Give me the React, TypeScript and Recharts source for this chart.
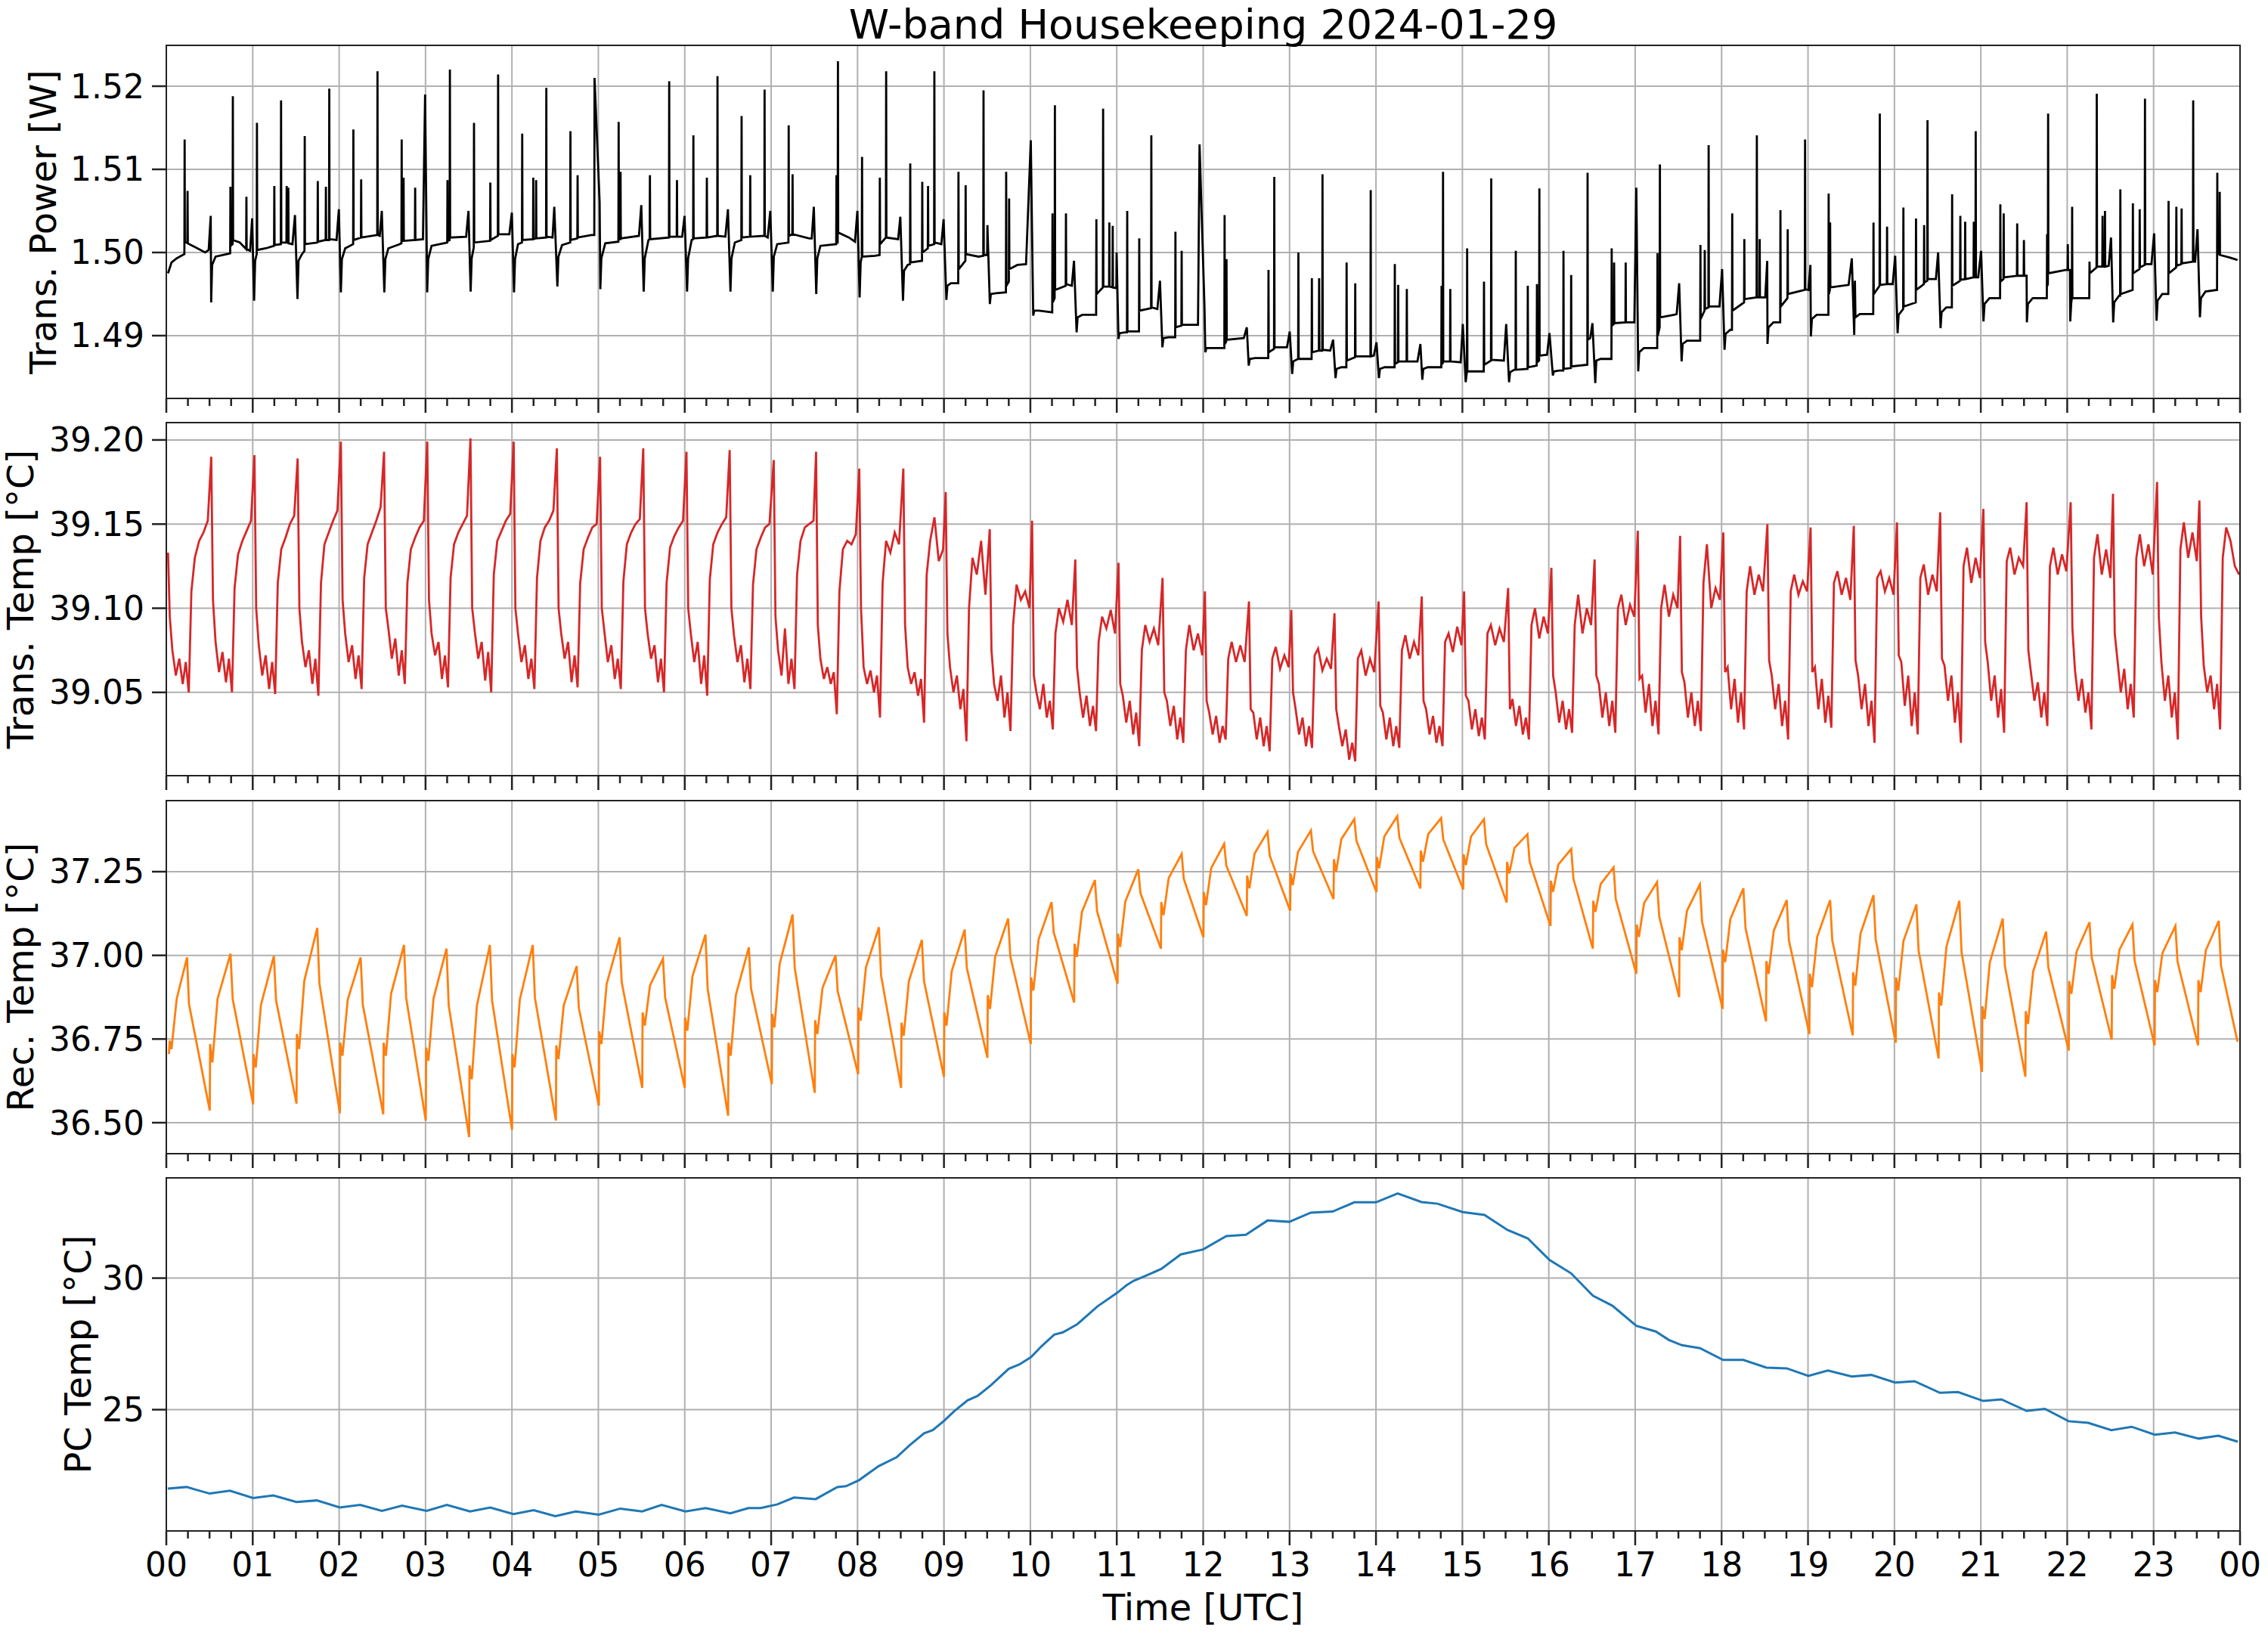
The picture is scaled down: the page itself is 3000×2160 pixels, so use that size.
import React from 'react'
import { LineChart, Line, XAxis, YAxis, CartesianGrid } from 'recharts'

// ─── Axes / labels ─────────────────────────────────────────────────────────────

const HOUR_LABELS = ['00', '01', '02', '03', '04', '05', '06', '07', '08', '09', '10', '11', '12',
  '13', '14', '15', '16', '17', '18', '19', '20', '21', '22', '23', '00']
const HOUR_GRID = [1, 2, 3, 4, 5, 6, 7, 8, 9, 10, 11, 12, 13, 14, 15, 16, 17, 18, 19, 20, 21, 22, 23]
const QUARTER_TICKS = Array.from({ length: 97 }, (_, i) => i / 4)

const POWER_TICKS = [1.49, 1.5, 1.51, 1.52]
const POWER_TICK_LABELS = ['1.49', '1.50', '1.51', '1.52']
const TTEMP_TICKS = [39.05, 39.1, 39.15, 39.2]
const TTEMP_TICK_LABELS = ['39.05', '39.10', '39.15', '39.20']
const RTEMP_TICKS = [36.5, 36.75, 37.0, 37.25]
const RTEMP_TICK_LABELS = ['36.50', '36.75', '37.00', '37.25']
const PCTEMP_TICKS = [25, 30]
const PCTEMP_TICK_LABELS = ['25', '30']

// ─── Data: transmitter power [W], (hour, value) ────────────────────────────────

const transPowerPoints: [number, number][] = [
  [0.02, 1.4975], [0.06, 1.4988], [0.12, 1.4993], [0.19, 1.4997], [0.209, 1.4998], [0.212, 1.5136], [0.215, 1.5012],
  [0.243, 1.5012], [0.246, 1.5074], [0.249, 1.5011], [0.36, 1.5005], [0.45, 1.5], [0.49, 1.5003], [0.514, 1.5044],
  [0.519, 1.494], [0.53, 1.4985], [0.57, 1.4995], [0.7, 1.4998], [0.739, 1.4999], [0.742, 1.5079], [0.745, 1.5008],
  [0.767, 1.501], [0.77, 1.5188], [0.773, 1.5015], [0.85, 1.5012], [0.924, 1.5004], [0.927, 1.5067], [0.93, 1.5004],
  [0.97, 1.5002], [0.993, 1.5041],
  [1.016, 1.4942], [1.028, 1.499], [1.046, 1.4998], [1.049, 1.5156], [1.052, 1.5003], [1.15, 1.5005], [1.247, 1.5008],
  [1.25, 1.508], [1.253, 1.5009], [1.325, 1.501], [1.328, 1.5183], [1.331, 1.5012], [1.39, 1.5012], [1.393, 1.508],
  [1.396, 1.5012], [1.409, 1.5012], [1.412, 1.5078], [1.415, 1.5011], [1.46, 1.501], [1.489, 1.5045],
  [1.518, 1.4944], [1.53, 1.499], [1.57, 1.4998], [1.599, 1.5002], [1.602, 1.514], [1.605, 1.501], [1.75, 1.5012],
  [1.753, 1.5086], [1.756, 1.5013], [1.844, 1.5015], [1.847, 1.5079], [1.85, 1.5015], [1.883, 1.5015], [1.886, 1.5197],
  [1.889, 1.5016], [1.97, 1.5015], [1.997, 1.5052],
  [2.02, 1.4952], [2.032, 1.4992], [2.07, 1.5005], [2.162, 1.501], [2.165, 1.5148], [2.168, 1.5015], [2.252, 1.5018],
  [2.255, 1.5088], [2.258, 1.5018], [2.441, 1.5021], [2.444, 1.5218], [2.447, 1.5021], [2.47, 1.502], [2.494, 1.505],
  [2.523, 1.4952], [2.535, 1.4992], [2.57, 1.5005], [2.7, 1.501], [2.721, 1.5011], [2.724, 1.5136], [2.727, 1.5014],
  [2.743, 1.5014], [2.746, 1.509], [2.749, 1.5014], [2.877, 1.5015], [2.88, 1.5078], [2.883, 1.5015], [2.97, 1.5016],
  [2.995, 1.519],
  [3.019, 1.4952], [3.031, 1.4992], [3.07, 1.5008], [3.251, 1.5012], [3.254, 1.5087], [3.257, 1.5014], [3.279, 1.5015],
  [3.282, 1.522], [3.285, 1.5018], [3.47, 1.5019], [3.497, 1.505],
  [3.522, 1.4953], [3.534, 1.4993], [3.558, 1.5006], [3.561, 1.5156], [3.564, 1.5012], [3.747, 1.5014], [3.75, 1.5084],
  [3.753, 1.5015], [3.837, 1.502], [3.84, 1.5214], [3.843, 1.5022], [3.97, 1.5022], [3.999, 1.5048],
  [4.024, 1.4952], [4.036, 1.4992], [4.07, 1.501], [4.116, 1.5012], [4.119, 1.5143], [4.122, 1.5015], [4.244, 1.5016],
  [4.247, 1.509], [4.25, 1.5016], [4.277, 1.5017], [4.28, 1.5087], [4.283, 1.5017], [4.395, 1.5018], [4.398, 1.5198],
  [4.401, 1.5019], [4.47, 1.5018], [4.49, 1.5055],
  [4.526, 1.4959], [4.538, 1.4995], [4.58, 1.5009], [4.674, 1.5012], [4.677, 1.5146], [4.68, 1.5015], [4.757, 1.5017],
  [4.76, 1.5093], [4.763, 1.5018], [4.92, 1.5021], [4.953, 1.5021], [4.956, 1.521], [5.015, 1.506],
  [5.023, 1.4956], [5.035, 1.4993], [5.08, 1.5011], [5.232, 1.5013], [5.235, 1.5157], [5.238, 1.5016], [5.254, 1.5016],
  [5.257, 1.5097], [5.26, 1.5017], [5.47, 1.502], [5.497, 1.5057],
  [5.525, 1.4953], [5.537, 1.4993], [5.58, 1.5015], [5.594, 1.5016], [5.597, 1.5093], [5.6, 1.5016], [5.817, 1.5018],
  [5.82, 1.5206], [5.823, 1.5019], [5.907, 1.5019], [5.91, 1.5087], [5.913, 1.5019], [5.97, 1.5019], [5.998, 1.5044],
  [6.027, 1.4953], [6.039, 1.4993], [6.08, 1.5015], [6.097, 1.5016], [6.1, 1.5141], [6.103, 1.5017], [6.253, 1.5018],
  [6.256, 1.509], [6.259, 1.5018], [6.376, 1.502], [6.379, 1.5212], [6.382, 1.502], [6.47, 1.5019], [6.5, 1.5052],
  [6.529, 1.4953], [6.541, 1.4993], [6.58, 1.5012], [6.655, 1.5015], [6.658, 1.5164], [6.661, 1.5018], [6.755, 1.5019],
  [6.758, 1.5093], [6.761, 1.5019], [6.921, 1.502], [6.924, 1.5196], [6.927, 1.502], [6.96, 1.5018], [6.99, 1.505],
  [7.019, 1.4953], [7.031, 1.4995], [7.07, 1.501], [7.2, 1.5012], [7.203, 1.5153], [7.206, 1.502], [7.245, 1.5022],
  [7.248, 1.5094], [7.251, 1.5022], [7.44, 1.5017], [7.47, 1.5017], [7.494, 1.5055],
  [7.522, 1.495], [7.534, 1.4993], [7.57, 1.5008], [7.753, 1.501], [7.756, 1.5093], [7.759, 1.5012], [7.77, 1.5012],
  [7.773, 1.523], [7.776, 1.5024], [7.9, 1.5018], [7.97, 1.5013], [7.998, 1.505],
  [8.024, 1.4946], [8.036, 1.4988], [8.049, 1.4995], [8.052, 1.5115], [8.055, 1.4995], [8.2, 1.4996], [8.255, 1.4997],
  [8.258, 1.509], [8.261, 1.501], [8.328, 1.5018], [8.331, 1.5218], [8.334, 1.5018], [8.47, 1.5016], [8.495, 1.5043],
  [8.526, 1.4942], [8.538, 1.4978], [8.58, 1.4985], [8.607, 1.4986], [8.61, 1.5107], [8.613, 1.4988], [8.746, 1.499],
  [8.749, 1.5085], [8.752, 1.5], [8.813, 1.5005], [8.816, 1.508], [8.819, 1.5008], [8.886, 1.501], [8.889, 1.5218],
  [8.892, 1.5012], [8.97, 1.501], [8.996, 1.504],
  [9.028, 1.4943], [9.04, 1.496], [9.08, 1.4963], [9.165, 1.4963], [9.168, 1.5097], [9.171, 1.498], [9.248, 1.499],
  [9.251, 1.5081], [9.254, 1.4998], [9.4, 1.4995], [9.455, 1.4996], [9.458, 1.5195], [9.461, 1.4997], [9.5, 1.4997],
  [9.503, 1.5033],
  [9.531, 1.4938], [9.543, 1.495], [9.6, 1.4951], [9.717, 1.4952], [9.72, 1.5097], [9.723, 1.496], [9.751, 1.4965],
  [9.754, 1.5065], [9.757, 1.498], [9.85, 1.4985], [9.95, 1.4986], [10.005, 1.5135],
  [10.033, 1.4924], [10.045, 1.493], [10.1, 1.493], [10.253, 1.4928], [10.256, 1.5047], [10.259, 1.494], [10.281, 1.4945],
  [10.284, 1.5177], [10.287, 1.4955], [10.409, 1.496], [10.412, 1.5047], [10.415, 1.4962], [10.48, 1.496], [10.505, 1.499],
  [10.535, 1.4904], [10.547, 1.4922], [10.6, 1.4925], [10.761, 1.4925], [10.764, 1.504], [10.767, 1.495], [10.839, 1.4958],
  [10.842, 1.5173], [10.845, 1.4959], [10.911, 1.4959], [10.914, 1.5036], [10.917, 1.4959], [10.95, 1.4958], [10.953, 1.5032],
  [10.956, 1.4958], [10.995, 1.4957], [10.998, 1.5],
  [11.02, 1.4896], [11.032, 1.4903], [11.1, 1.4904], [11.118, 1.4904], [11.121, 1.505], [11.124, 1.4905], [11.257, 1.4905],
  [11.26, 1.5017], [11.263, 1.493], [11.397, 1.4933], [11.4, 1.5141], [11.403, 1.4934], [11.47, 1.4932], [11.5, 1.4966],
  [11.528, 1.4886], [11.54, 1.4897], [11.6, 1.4898], [11.676, 1.4898], [11.679, 1.5025], [11.682, 1.491], [11.748, 1.4912],
  [11.751, 1.5002], [11.754, 1.4913], [11.94, 1.4913], [11.958, 1.513], [12.015, 1.4935],
  [12.025, 1.488], [12.037, 1.4885], [12.1, 1.4885], [12.245, 1.4885], [12.248, 1.5045], [12.251, 1.489], [12.267, 1.4893],
  [12.27, 1.4992], [12.273, 1.4895], [12.47, 1.4897], [12.505, 1.491],
  [12.527, 1.4864], [12.54, 1.4872], [12.6, 1.4873], [12.753, 1.4873], [12.756, 1.4979], [12.759, 1.488], [12.82, 1.4884],
  [12.823, 1.5091], [12.826, 1.4886], [12.97, 1.4886], [13.002, 1.4905],
  [13.03, 1.4854], [13.042, 1.4869], [13.099, 1.4872], [13.102, 1.5], [13.105, 1.4872], [13.255, 1.4872], [13.258, 1.4969],
  [13.261, 1.488], [13.339, 1.4882], [13.342, 1.4969], [13.345, 1.4882], [13.378, 1.4882], [13.381, 1.5094], [13.384, 1.4883],
  [13.47, 1.4882], [13.504, 1.4895],
  [13.532, 1.4849], [13.544, 1.486], [13.6, 1.4862], [13.657, 1.4862], [13.66, 1.4988], [13.663, 1.487], [13.757, 1.4874],
  [13.76, 1.4963], [13.763, 1.4875], [13.936, 1.4875], [13.939, 1.5075], [13.942, 1.4875], [13.975, 1.4876], [14.006, 1.4892],
  [14.034, 1.4849], [14.046, 1.486], [14.1, 1.4862], [14.215, 1.4862], [14.218, 1.4986], [14.221, 1.4866], [14.254, 1.4868],
  [14.257, 1.4961], [14.26, 1.4869], [14.354, 1.4869], [14.357, 1.4956], [14.36, 1.4869], [14.48, 1.4869], [14.514, 1.489],
  [14.536, 1.4847], [14.548, 1.486], [14.6, 1.4862], [14.756, 1.4862], [14.759, 1.496], [14.762, 1.4866], [14.773, 1.4867],
  [14.776, 1.5097], [14.779, 1.4869], [14.857, 1.4869], [14.86, 1.4956], [14.863, 1.4869], [14.98, 1.4868], [15.005, 1.4914],
  [15.038, 1.4844], [15.052, 1.4856], [15.055, 1.5005], [15.058, 1.4857], [15.1, 1.4857], [15.247, 1.4857], [15.25, 1.4965],
  [15.253, 1.4865], [15.331, 1.487], [15.334, 1.5089], [15.337, 1.4871], [15.48, 1.487], [15.507, 1.4914],
  [15.54, 1.4844], [15.552, 1.4856], [15.6, 1.4859], [15.615, 1.4859], [15.618, 1.5002], [15.621, 1.4859], [15.754, 1.486],
  [15.757, 1.496], [15.76, 1.4862], [15.86, 1.4864], [15.863, 1.4962], [15.866, 1.4868], [15.888, 1.487], [15.891, 1.5077],
  [15.894, 1.4876], [15.98, 1.4877], [16.008, 1.4903],
  [16.047, 1.4852], [16.059, 1.4857], [16.12, 1.4858], [16.167, 1.4858], [16.17, 1.5002], [16.173, 1.486], [16.256, 1.4861],
  [16.259, 1.4973], [16.262, 1.4863], [16.446, 1.4865], [16.449, 1.5096], [16.452, 1.4895], [16.48, 1.4897], [16.505, 1.4915],
  [16.538, 1.4843], [16.55, 1.487], [16.6, 1.4872], [16.725, 1.4872], [16.728, 1.5005], [16.731, 1.4912], [16.753, 1.4914],
  [16.756, 1.4988], [16.759, 1.4915], [16.887, 1.4916], [16.89, 1.4988], [16.893, 1.4916], [16.99, 1.4916], [17.013, 1.5078],
  [17.035, 1.4857], [17.047, 1.488], [17.1, 1.4885], [17.255, 1.4885], [17.258, 1.4999], [17.261, 1.49], [17.283, 1.491],
  [17.286, 1.5106], [17.289, 1.4922], [17.45, 1.4925], [17.48, 1.4926], [17.509, 1.4963],
  [17.537, 1.4869], [17.549, 1.489], [17.6, 1.4894], [17.752, 1.4894], [17.755, 1.5009], [17.758, 1.492], [17.802, 1.493],
  [17.805, 1.5003], [17.808, 1.4932], [17.847, 1.4934], [17.85, 1.5129], [17.853, 1.4935], [17.975, 1.4935], [18.006, 1.498],
  [18.034, 1.4883], [18.046, 1.4902], [18.1, 1.4907], [18.12, 1.4907], [18.123, 1.5047], [18.126, 1.493], [18.26, 1.494],
  [18.263, 1.5016], [18.266, 1.4944], [18.405, 1.4946], [18.408, 1.5141], [18.411, 1.4946], [18.438, 1.4946], [18.441, 1.5016],
  [18.444, 1.4946], [18.505, 1.4946], [18.528, 1.499],
  [18.531, 1.489], [18.543, 1.491], [18.6, 1.4916], [18.678, 1.4916], [18.681, 1.5051], [18.684, 1.4935], [18.762, 1.4945],
  [18.765, 1.5028], [18.768, 1.495], [18.963, 1.4955], [18.966, 1.5136], [18.969, 1.4956], [19.005, 1.4955], [19.028, 1.4985],
  [19.033, 1.4899], [19.045, 1.492], [19.1, 1.4925], [19.236, 1.4925], [19.239, 1.5071], [19.242, 1.495], [19.253, 1.4955],
  [19.256, 1.5036], [19.259, 1.4958], [19.47, 1.4961], [19.507, 1.4993],
  [19.535, 1.4901], [19.543, 1.4966], [19.549, 1.4922], [19.6, 1.4926], [19.755, 1.4926], [19.758, 1.5036], [19.761, 1.495],
  [19.828, 1.496], [19.831, 1.5167], [19.834, 1.4961], [19.912, 1.4962], [19.915, 1.5031], [19.918, 1.4962], [19.98, 1.4962],
  [20.009, 1.4996],
  [20.037, 1.4903], [20.049, 1.4925], [20.101, 1.4932], [20.104, 1.5054], [20.107, 1.4935], [20.247, 1.494], [20.25, 1.5041],
  [20.253, 1.4955], [20.341, 1.4962], [20.344, 1.5033], [20.347, 1.4964], [20.38, 1.4966], [20.383, 1.5159], [20.386, 1.4968],
  [20.48, 1.4968], [20.506, 1.5],
  [20.534, 1.4909], [20.546, 1.4928], [20.6, 1.4934], [20.665, 1.4934], [20.668, 1.507], [20.671, 1.496], [20.76, 1.4966],
  [20.763, 1.5044], [20.766, 1.4967], [20.816, 1.4968], [20.819, 1.5037], [20.822, 1.4968], [20.916, 1.497], [20.919, 1.5037],
  [20.922, 1.497], [20.938, 1.497], [20.941, 1.5146], [20.944, 1.497], [20.97, 1.497], [21.003, 1.5002],
  [21.031, 1.4917], [21.043, 1.4938], [21.1, 1.4945], [21.223, 1.4945], [21.226, 1.5058], [21.229, 1.4965], [21.262, 1.4968],
  [21.265, 1.5047], [21.268, 1.497], [21.418, 1.4972], [21.421, 1.5035], [21.424, 1.4972], [21.496, 1.4972], [21.499, 1.5015],
  [21.502, 1.4972], [21.53, 1.4972],
  [21.533, 1.4916], [21.545, 1.4938], [21.6, 1.4945], [21.764, 1.4945], [21.767, 1.5022], [21.77, 1.496], [21.776, 1.4962],
  [21.779, 1.5167], [21.782, 1.4975], [21.98, 1.4979], [22.004, 1.4979], [22.007, 1.501], [22.01, 1.4979], [22.032, 1.4979],
  [22.035, 1.4917], [22.047, 1.494], [22.054, 1.4945], [22.057, 1.5055], [22.06, 1.4945], [22.255, 1.4945], [22.258, 1.4989],
  [22.261, 1.4975], [22.339, 1.4982], [22.342, 1.5191], [22.345, 1.4983], [22.406, 1.4983], [22.409, 1.5044], [22.412, 1.4983],
  [22.434, 1.4983], [22.437, 1.505], [22.44, 1.4983], [22.48, 1.4984], [22.507, 1.5018],
  [22.532, 1.4916], [22.544, 1.494], [22.6, 1.4948], [22.612, 1.4948], [22.615, 1.5076], [22.618, 1.495], [22.757, 1.4955],
  [22.76, 1.5059], [22.763, 1.4975], [22.836, 1.498], [22.839, 1.5052], [22.842, 1.4982], [22.897, 1.4985], [22.9, 1.5185],
  [22.903, 1.4986], [22.975, 1.4986], [23.006, 1.5023],
  [23.034, 1.4918], [23.046, 1.4942], [23.1, 1.495], [23.17, 1.495], [23.173, 1.5062], [23.176, 1.4975], [23.26, 1.4982],
  [23.263, 1.5055], [23.266, 1.4984], [23.321, 1.4986], [23.324, 1.5053], [23.327, 1.4987], [23.455, 1.4989], [23.458, 1.5183],
  [23.461, 1.4989], [23.48, 1.4989], [23.508, 1.5028],
  [23.536, 1.4922], [23.548, 1.4945], [23.6, 1.4953], [23.734, 1.4955], [23.737, 1.5096], [23.74, 1.4998], [23.762, 1.4998],
  [23.765, 1.5073], [23.768, 1.4997], [23.88, 1.4994], [23.971, 1.4991],
]

// ─── Data: transmitter temperature [°C] ────────────────────────────────────────
// one row per thermostat cycle: [peak hour, peak, drop, trough x5, dip, rise, plateau x4]
const TTEMP_OFFSETS = [0, 0.02, 0.05, 0.09, 0.13, 0.17, 0.205, 0.24, 0.27, 0.31, 0.36, 0.41, 0.46]
const transTempCycles: number[][] = [
  [0.02, 39.133, 39.095, 39.075, 39.06, 39.07, 39.055, 39.068, 39.05, 39.11, 39.13, 39.14, 39.145, 39.152],
  [0.52, 39.19, 39.105, 39.08, 39.062, 39.074, 39.056, 39.07, 39.05, 39.112, 39.132, 39.14, 39.146, 39.152],
  [1.02, 39.191, 39.1, 39.078, 39.06, 39.072, 39.052, 39.068, 39.049, 39.115, 39.135, 39.142, 39.15, 39.155],
  [1.52, 39.189, 39.1, 39.08, 39.065, 39.075, 39.055, 39.07, 39.048, 39.115, 39.138, 39.145, 39.152, 39.158],
  [2.02, 39.199, 39.105, 39.085, 39.068, 39.078, 39.058, 39.072, 39.052, 39.118, 39.138, 39.145, 39.152, 39.16],
  [2.52, 39.193, 39.1, 39.088, 39.07, 39.082, 39.06, 39.075, 39.055, 39.115, 39.135, 39.142, 39.148, 39.152],
  [3.02, 39.199, 39.105, 39.085, 39.072, 39.08, 39.058, 39.072, 39.053, 39.118, 39.138, 39.145, 39.15, 39.155],
  [3.52, 39.201, 39.1, 39.086, 39.07, 39.08, 39.057, 39.074, 39.05, 39.12, 39.14, 39.146, 39.152, 39.156],
  [4.02, 39.199, 39.1, 39.085, 39.068, 39.078, 39.058, 39.07, 39.052, 39.118, 39.14, 39.148, 39.152, 39.158],
  [4.52, 39.195, 39.1, 39.085, 39.07, 39.08, 39.056, 39.072, 39.053, 39.115, 39.135, 39.142, 39.148, 39.15],
  [5.02, 39.19, 39.1, 39.086, 39.068, 39.078, 39.058, 39.07, 39.052, 39.116, 39.138, 39.145, 39.15, 39.153],
  [5.52, 39.195, 39.1, 39.085, 39.07, 39.078, 39.056, 39.07, 39.05, 39.115, 39.136, 39.143, 39.148, 39.152],
  [6.02, 39.193, 39.1, 39.085, 39.068, 39.08, 39.055, 39.072, 39.048, 39.117, 39.138, 39.145, 39.15, 39.154],
  [6.52, 39.194, 39.1, 39.084, 39.068, 39.078, 39.056, 39.07, 39.052, 39.114, 39.135, 39.142, 39.148, 39.15],
  [7.03, 39.188, 39.095, 39.075, 39.06, 39.088, 39.055, 39.07, 39.052, 39.12, 39.14, 39.148, 39.15, 39.152],
  [7.52, 39.193, 39.09, 39.07, 39.058, 39.065, 39.055, 39.062, 39.037, 39.11, 39.135, 39.14, 39.138, 39.144],
  [8.02, 39.183, 39.1, 39.065, 39.055, 39.063, 39.05, 39.06, 39.035, 39.115, 39.14, 39.133, 39.145, 39.138],
  [8.53, 39.183, 39.09, 39.065, 39.055, 39.062, 39.048, 39.058, 39.032, 39.12, 39.14, 39.154, 39.128, 39.135],
  [9.02, 39.169, 39.085, 39.065, 39.05, 39.06, 39.04, 39.052, 39.021, 39.1, 39.13, 39.12, 39.14, 39.108],
  [9.53, 39.147, 39.075, 39.055, 39.045, 39.06, 39.035, 39.05, 39.027, 39.09, 39.114, 39.105, 39.11, 39.1],
  [10.02, 39.152, 39.06, 39.05, 39.04, 39.055, 39.035, 39.045, 39.028, 39.085, 39.1, 39.092, 39.105, 39.09],
  [10.52, 39.129, 39.065, 39.05, 39.035, 39.048, 39.03, 39.042, 39.027, 39.08, 39.095, 39.088, 39.099, 39.085],
  [11.02, 39.127, 39.055, 39.048, 39.032, 39.045, 39.025, 39.038, 39.018, 39.075, 39.09, 39.08, 39.088, 39.078],
  [11.53, 39.118, 39.05, 39.045, 39.03, 39.042, 39.022, 39.035, 39.02, 39.075, 39.09, 39.075, 39.085, 39.072],
  [12.02, 39.11, 39.045, 39.038, 39.025, 39.036, 39.02, 39.03, 39.022, 39.07, 39.08, 39.068, 39.078, 39.068],
  [12.53, 39.104, 39.04, 39.038, 39.022, 39.035, 39.018, 39.03, 39.015, 39.07, 39.077, 39.064, 39.072, 39.065],
  [13.02, 39.099, 39.05, 39.04, 39.025, 39.035, 39.018, 39.03, 39.017, 39.072, 39.076, 39.063, 39.07, 39.064],
  [13.52, 39.097, 39.04, 39.03, 39.018, 39.028, 39.01, 39.02, 39.009, 39.07, 39.075, 39.06, 39.07, 39.062],
  [14.03, 39.104, 39.042, 39.038, 39.022, 39.035, 39.018, 39.03, 39.017, 39.075, 39.084, 39.07, 39.08, 39.072],
  [14.53, 39.107, 39.045, 39.04, 39.025, 39.036, 39.02, 39.03, 39.018, 39.08, 39.085, 39.074, 39.089, 39.078],
  [15.02, 39.11, 39.048, 39.045, 39.028, 39.04, 39.024, 39.035, 39.022, 39.085, 39.09, 39.078, 39.088, 39.08],
  [15.53, 39.112, 39.04, 39.046, 39.03, 39.042, 39.025, 39.035, 39.022, 39.09, 39.1, 39.082, 39.095, 39.085],
  [16.03, 39.124, 39.06, 39.05, 39.032, 39.045, 39.028, 39.04, 39.026, 39.09, 39.108, 39.085, 39.1, 39.09],
  [16.53, 39.129, 39.06, 39.055, 39.035, 39.05, 39.03, 39.045, 39.026, 39.1, 39.108, 39.09, 39.102, 39.095],
  [17.03, 39.146, 39.058, 39.06, 39.038, 39.055, 39.03, 39.045, 39.025, 39.1, 39.114, 39.095, 39.108, 39.1],
  [17.52, 39.143, 39.062, 39.056, 39.035, 39.05, 39.03, 39.045, 39.027, 39.115, 39.138, 39.1, 39.112, 39.105],
  [18.02, 39.145, 39.062, 39.065, 39.04, 39.058, 39.032, 39.05, 39.028, 39.11, 39.125, 39.108, 39.12, 39.11],
  [18.53, 39.15, 39.069, 39.06, 39.04, 39.055, 39.03, 39.045, 39.022, 39.11, 39.12, 39.108, 39.116, 39.11],
  [19.03, 39.148, 39.062, 39.065, 39.04, 39.058, 39.032, 39.048, 39.029, 39.115, 39.122, 39.108, 39.118, 39.105],
  [19.53, 39.149, 39.069, 39.06, 39.04, 39.055, 39.03, 39.045, 39.02, 39.118, 39.122, 39.11, 39.118, 39.108],
  [20.03, 39.151, 39.072, 39.068, 39.042, 39.06, 39.03, 39.05, 39.025, 39.118, 39.126, 39.108, 39.12, 39.11],
  [20.53, 39.157, 39.07, 39.066, 39.045, 39.06, 39.032, 39.05, 39.02, 39.125, 39.136, 39.115, 39.13, 39.118],
  [21.03, 39.159, 39.08, 39.068, 39.045, 39.06, 39.035, 39.052, 39.026, 39.128, 39.136, 39.12, 39.13, 39.125],
  [21.53, 39.163, 39.075, 39.062, 39.045, 39.056, 39.035, 39.05, 39.03, 39.125, 39.136, 39.12, 39.132, 39.122],
  [22.04, 39.163, 39.088, 39.063, 39.045, 39.058, 39.038, 39.05, 39.028, 39.13, 39.144, 39.12, 39.135, 39.118],
  [22.53, 39.168, 39.085, 39.07, 39.05, 39.064, 39.04, 39.055, 39.035, 39.13, 39.144, 39.125, 39.138, 39.12],
  [23.04, 39.175, 39.095, 39.068, 39.045, 39.06, 39.035, 39.05, 39.022, 39.135, 39.151, 39.13, 39.145, 39.128],
  [23.53, 39.164, 39.095, 39.066, 39.05, 39.06, 39.04, 39.055, 39.028, 39.13, 39.148, 39.14, 39.125, 39.12],
]

// ─── Data: receiver temperature [°C] ───────────────────────────────────────────
// one row per cycle: [trough hour, trough, jump, post-jump dip, mid-rise, peak, post-peak]
const RTEMP_OFFSETS = [0, 0.004, 0.03, 0.09, 0.24, 0.265]
const recTempStart: [number, number][] = [
  [0.03, 36.705], [0.04, 36.745], [0.06, 36.72], [0.12, 36.87], [0.24, 36.994], [0.262, 36.855],
]
const recTempCycles: number[][] = [
  [0.503, 36.536, 36.735, 36.68, 36.87, 37.005, 36.87],
  [1.005, 36.555, 36.705, 36.665, 36.852, 36.998, 36.866],
  [1.507, 36.557, 36.765, 36.72, 36.924, 37.082, 36.916],
  [2.009, 36.528, 36.739, 36.7, 36.867, 36.994, 36.853],
  [2.511, 36.525, 36.739, 36.7, 36.885, 37.031, 36.873],
  [3.003, 36.506, 36.724, 36.685, 36.872, 37.02, 36.851],
  [3.505, 36.457, 36.671, 36.63, 36.851, 37.031, 36.865],
  [4.001, 36.479, 36.705, 36.665, 36.868, 37.031, 36.873],
  [4.509, 36.506, 36.731, 36.69, 36.85, 36.968, 36.843],
  [5.006, 36.551, 36.773, 36.735, 36.914, 37.054, 36.919],
  [5.508, 36.604, 36.829, 36.79, 36.91, 36.99, 36.874],
  [6.0, 36.604, 36.814, 36.775, 36.938, 37.062, 36.9],
  [6.502, 36.521, 36.739, 36.7, 36.882, 37.024, 36.901],
  [7.008, 36.615, 36.825, 36.785, 36.974, 37.122, 36.962],
  [7.505, 36.589, 36.806, 36.765, 36.903, 37.0, 36.893],
  [8.007, 36.645, 36.844, 36.805, 36.964, 37.084, 36.94],
  [8.504, 36.604, 36.799, 36.76, 36.923, 37.046, 36.923],
  [9.0, 36.637, 36.829, 36.79, 36.953, 37.077, 36.962],
  [9.503, 36.694, 36.881, 36.84, 36.996, 37.11, 36.997],
  [10.005, 36.735, 36.934, 36.895, 37.047, 37.159, 37.069],
  [10.507, 36.859, 37.035, 36.995, 37.13, 37.225, 37.132],
  [11.009, 36.915, 37.065, 37.025, 37.161, 37.257, 37.186],
  [11.511, 37.02, 37.159, 37.12, 37.231, 37.303, 37.228],
  [12.003, 37.054, 37.189, 37.15, 37.261, 37.333, 37.268],
  [12.505, 37.118, 37.238, 37.2, 37.304, 37.369, 37.298],
  [13.007, 37.133, 37.245, 37.21, 37.309, 37.373, 37.311],
  [13.509, 37.168, 37.287, 37.25, 37.347, 37.407, 37.342],
  [14.006, 37.189, 37.294, 37.26, 37.355, 37.416, 37.351],
  [14.514, 37.2, 37.313, 37.28, 37.362, 37.41, 37.346],
  [15.01, 37.197, 37.302, 37.27, 37.355, 37.407, 37.332],
  [15.513, 37.158, 37.279, 37.245, 37.321, 37.362, 37.28],
  [16.02, 37.088, 37.223, 37.19, 37.271, 37.318, 37.229],
  [16.51, 37.02, 37.163, 37.13, 37.213, 37.263, 37.168],
  [17.013, 36.945, 37.092, 37.055, 37.156, 37.219, 37.116],
  [17.509, 36.875, 37.054, 37.015, 37.133, 37.212, 37.1],
  [18.012, 36.84, 37.017, 36.98, 37.109, 37.2, 37.081],
  [18.514, 36.803, 36.983, 36.945, 37.074, 37.165, 37.045],
  [19.016, 36.765, 36.945, 36.905, 37.055, 37.165, 37.044],
  [19.518, 36.761, 36.949, 36.91, 37.065, 37.18, 37.048],
  [20.015, 36.739, 36.934, 36.895, 37.043, 37.152, 37.014],
  [20.512, 36.692, 36.889, 36.85, 37.026, 37.163, 37.01],
  [21.014, 36.652, 36.848, 36.81, 36.979, 37.11, 36.968],
  [21.516, 36.637, 36.833, 36.795, 36.952, 37.071, 36.964],
  [22.018, 36.716, 36.923, 36.885, 37.011, 37.099, 36.994],
  [22.515, 36.748, 36.941, 36.9, 37.017, 37.092, 36.984],
  [23.012, 36.731, 36.926, 36.89, 37.007, 37.088, 36.981],
  [23.514, 36.731, 36.926, 36.89, 37.015, 37.103, 36.97],
]
const recTempEnd: [number, number][] = [[23.971, 36.742]]

// ─── Data: PC temperature [°C] ─────────────────────────────────────────────────

const pcTempPoints: [number, number][] = [
  [0.017, 22.0], [0.234, 22.06], [0.502, 21.81], [0.736, 21.92], [1.004, 21.64], [1.238, 21.74], [1.506, 21.49],
  [1.741, 21.55], [2.008, 21.28], [2.243, 21.38], [2.494, 21.15], [2.728, 21.35], [3.013, 21.15], [3.247, 21.38],
  [3.515, 21.13], [3.749, 21.28], [4.017, 21.03], [4.251, 21.18], [4.502, 20.95], [4.736, 21.13], [5.004, 21.01],
  [5.255, 21.24], [5.506, 21.13], [5.732, 21.38], [6.008, 21.13], [6.243, 21.26], [6.527, 21.06], [6.736, 21.26],
  [6.879, 21.26], [7.071, 21.4], [7.264, 21.66], [7.515, 21.6], [7.766, 22.06], [7.866, 22.09], [8.017, 22.32],
  [8.243, 22.85], [8.452, 23.19], [8.603, 23.65], [8.77, 24.1], [8.87, 24.22], [8.996, 24.56], [9.121, 24.95],
  [9.272, 25.35], [9.389, 25.52], [9.54, 25.92], [9.749, 26.55], [9.874, 26.72], [10.008, 27.0], [10.126, 27.4],
  [10.276, 27.85], [10.377, 27.94], [10.544, 28.25], [10.778, 28.93], [11.004, 29.44], [11.113, 29.73], [11.197, 29.9],
  [11.322, 30.07], [11.515, 30.35], [11.741, 30.9], [12.0, 31.09], [12.268, 31.6], [12.494, 31.65], [12.745, 32.19],
  [12.996, 32.14], [13.247, 32.49], [13.498, 32.53], [13.749, 32.88], [14.0, 32.88], [14.251, 33.22], [14.527, 32.89],
  [14.711, 32.83], [15.004, 32.51], [15.255, 32.4], [15.523, 31.83], [15.757, 31.51], [16.008, 30.69], [16.259, 30.18],
  [16.51, 29.33], [16.736, 28.95], [17.013, 28.19], [17.239, 27.97], [17.389, 27.65], [17.54, 27.45], [17.749, 27.34],
  [18.017, 26.89], [18.251, 26.89], [18.519, 26.6], [18.753, 26.57], [19.004, 26.28], [19.23, 26.49], [19.506, 26.26],
  [19.732, 26.32], [20.008, 26.03], [20.234, 26.08], [20.527, 25.64], [20.736, 25.67], [21.029, 25.33], [21.238, 25.39],
  [21.531, 24.95], [21.741, 25.03], [22.017, 24.56], [22.243, 24.5], [22.51, 24.22], [22.745, 24.35], [23.013, 24.05],
  [23.247, 24.13], [23.523, 23.9], [23.749, 24.01], [23.975, 23.78],
]

// ─── Data builders ─────────────────────────────────────────────────────────────

type Pt = { t: number; v: number }

const fromPairs = (pairs: [number, number][]): Pt[] => pairs.map(([t, v]) => ({ t, v }))

function expandCycles(rows: number[][], offsets: number[]): Pt[] {
  const out: Pt[] = []
  rows.forEach(([t0, ...vals]) => {
    vals.forEach((v, i) => out.push({ t: +(t0 + offsets[i]).toFixed(4), v }))
  })
  return out
}

const powerData = fromPairs(transPowerPoints)
const transTempData = expandCycles(transTempCycles, TTEMP_OFFSETS)
const recTempData = [
  ...fromPairs(recTempStart),
  ...expandCycles(recTempCycles, RTEMP_OFFSETS),
  ...fromPairs(recTempEnd),
]
const pcTempData = fromPairs(pcTempPoints)

// ─── Layout ────────────────────────────────────────────────────────────────────

const FONT = '"DejaVu Sans", Verdana, sans-serif'
const PAGE_W = 3000
const PLOT_LEFT = 220
const PLOT_RIGHT = 2963
const PLOT_W = PLOT_RIGHT - PLOT_LEFT
const PLOT_H = 467
const PAD_TOP = 20
const GRID = '#b0b0b0'
const SPINE = '#222222'

function XTick(props: any) {
  const { x, y, payload, showLabels } = props
  const v = payload.value as number
  const major = Math.abs(v - Math.round(v)) < 1e-6
  return (
    <g>
      <line x1={x} x2={x} y1={y} y2={y + (major ? 19 : 10)} stroke={SPINE} strokeWidth={2.5} />
      {showLabels && major && (
        <text x={x} y={y + 60} textAnchor="middle" fontSize={44} fontFamily={FONT} fill="#000">
          {HOUR_LABELS[Math.round(v)]}
        </text>
      )}
    </g>
  )
}

function YTick(props: any) {
  const { x, y, index, labels } = props
  return (
    <g>
      <line x1={x - 19} x2={x} y1={y} y2={y} stroke={SPINE} strokeWidth={2.5} />
      <text x={x - 29} y={y} textAnchor="end" dominantBaseline="central" fontSize={44} fontFamily={FONT} fill="#000">
        {labels[index]}
      </text>
    </g>
  )
}

interface PanelProps {
  top: number
  data: Pt[]
  color: string
  domain: [number, number]
  ticks: number[]
  tickLabels: string[]
  showX?: boolean
  strokeWidth?: number
}

function Panel({ top, data, color, domain, ticks, tickLabels, showX = false, strokeWidth = 2.8 }: PanelProps) {
  const xAxisH = showX ? 80 : 30
  const h = PAD_TOP + PLOT_H + xAxisH
  return (
    <div style={{ position: 'absolute', left: 0, top: top - PAD_TOP, width: PAGE_W, height: h }}>
      <LineChart
        width={PAGE_W}
        height={h}
        data={data}
        margin={{ top: PAD_TOP, right: PAGE_W - PLOT_RIGHT, bottom: 0, left: 0 }}
      >
        <CartesianGrid stroke={GRID} strokeWidth={2} verticalValues={HOUR_GRID} horizontalValues={ticks} />
        <XAxis
          dataKey="t"
          type="number"
          domain={[0, 24]}
          ticks={QUARTER_TICKS}
          interval={0}
          allowDataOverflow
          height={xAxisH}
          tickSize={0}
          tickMargin={0}
          axisLine={false}
          tickLine={false}
          tick={(p: any) => <XTick {...p} showLabels={showX} />}
        />
        <YAxis
          type="number"
          domain={domain}
          ticks={ticks}
          interval={0}
          allowDataOverflow
          width={PLOT_LEFT}
          tickSize={0}
          tickMargin={0}
          axisLine={false}
          tickLine={false}
          tick={(p: any) => <YTick {...p} labels={tickLabels} />}
        />
        <Line
          type="linear"
          dataKey="v"
          stroke={color}
          strokeWidth={strokeWidth}
          dot={false}
          activeDot={false}
          isAnimationActive={false}
        />
      </LineChart>
      <div
        style={{
          position: 'absolute',
          left: PLOT_LEFT - 1.25,
          top: PAD_TOP - 1.25,
          width: PLOT_W + 2.5,
          height: PLOT_H + 2.5,
          border: `2.5px solid ${SPINE}`,
          boxSizing: 'border-box',
          pointerEvents: 'none',
        }}
      />
    </div>
  )
}

const PANEL_TOPS = [60, 559, 1059, 1558]

// ─── App ───────────────────────────────────────────────────────────────────────

export default function App() {
  const yLabels = [
    { text: 'Trans. Power [W]', x: 57 },
    { text: 'Trans. Temp [°C]', x: 27 },
    { text: 'Rec. Temp [°C]', x: 27 },
    { text: 'PC Temp [°C]', x: 103 },
  ]
  const plotCenterX = (PLOT_LEFT + PLOT_RIGHT) / 2
  return (
    <div style={{ position: 'absolute', left: 0, top: 0, width: PAGE_W, height: 2160, background: '#fff', fontFamily: FONT }}>
      <Panel top={PANEL_TOPS[0]} data={powerData} color="#000000" domain={[1.48245, 1.52491]} ticks={POWER_TICKS} tickLabels={POWER_TICK_LABELS} />
      <Panel top={PANEL_TOPS[1]} data={transTempData} color="#d62728" domain={[39.0005, 39.2103]} ticks={TTEMP_TICKS} tickLabels={TTEMP_TICK_LABELS} />
      <Panel top={PANEL_TOPS[2]} data={recTempData} color="#ff7f0e" domain={[36.4074, 37.4623]} ticks={RTEMP_TICKS} tickLabels={RTEMP_TICK_LABELS} />
      <Panel top={PANEL_TOPS[3]} data={pcTempData} color="#1f77b4" domain={[20.39, 33.81]} ticks={PCTEMP_TICKS} tickLabels={PCTEMP_TICK_LABELS} showX strokeWidth={3} />
      <svg width={PAGE_W} height={2160} style={{ position: 'absolute', left: 0, top: 0, pointerEvents: 'none' }}>
        <text x={plotCenterX} y={51} textAnchor="middle" fontSize={54} fontFamily={FONT} fill="#000">
          W-band Housekeeping 2024-01-29
        </text>
        {yLabels.map((l, i) => (
          <text
            key={l.text}
            transform={`translate(${l.x},${PANEL_TOPS[i] + PLOT_H / 2}) rotate(-90)`}
            textAnchor="middle"
            dominantBaseline="central"
            fontSize={48}
            fontFamily={FONT}
            fill="#000"
          >
            {l.text}
          </text>
        ))}
        <text x={plotCenterX} y={2143} textAnchor="middle" fontSize={48} fontFamily={FONT} fill="#000">
          Time [UTC]
        </text>
      </svg>
    </div>
  )
}
